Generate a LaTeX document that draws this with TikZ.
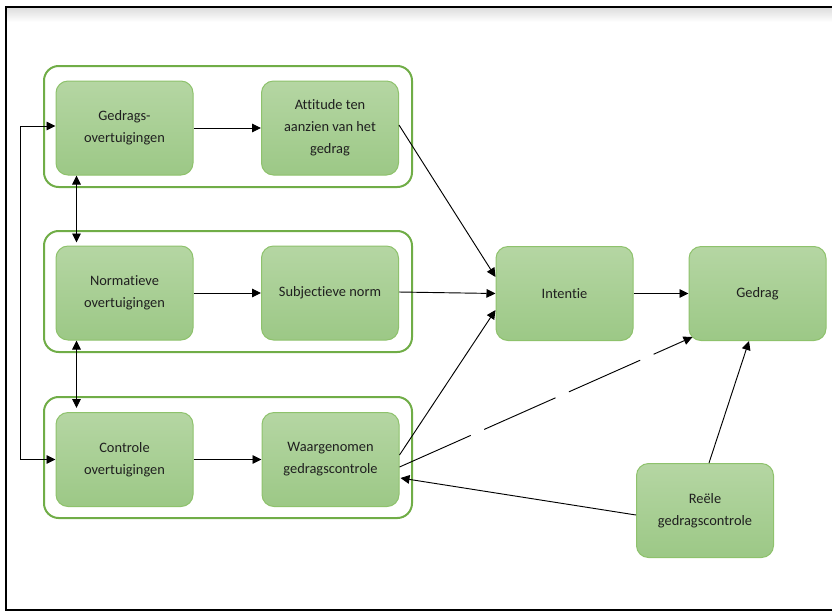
\documentclass[tikz,border=0pt]{standalone}
\usepackage{fontspec}
\setmainfont{Carlito}[Ligatures={NoCommon}]
\usetikzlibrary{arrows.meta,calc}
\definecolor{boxtop}{HTML}{B5D6A3}
\definecolor{boxbot}{HTML}{9CC886}
\definecolor{boxline}{HTML}{8EC26C}
\definecolor{grpline}{HTML}{70AD47}
\definecolor{txt}{HTML}{1F1F1F}
\begin{document}
\begin{tikzpicture}[x=0.75pt,y=-0.75pt,
  box/.style={draw=boxline, line width=0.75pt, rounded corners=9pt, top color=boxtop, bottom color=boxbot,
    minimum width=102.75pt, minimum height=70.5pt, inner sep=0pt, align=center,
    font=\fontsize{10.8}{16.5}\selectfont, text=txt},
  grp/.style={draw=grpline, line width=1.5pt, rounded corners=11pt, fill=white,
    minimum width=276pt, minimum height=90.75pt, inner sep=0pt},
  arr/.style={-{Triangle[length=6.75pt,width=6.5pt]}, line width=0.7pt, draw=black},
  darr/.style={{Triangle[length=6.75pt,width=6.5pt]}-{Triangle[length=6.75pt,width=6.5pt]}, line width=0.7pt, draw=black}]
\useasboundingbox (0,0) rectangle (832,612);
% frame
\shade[top color=black!13, bottom color=white] (7,8) rectangle (832,22);
\draw[line width=1.6pt] (833,7) -- (6,7) -- (6,610) -- (833,610);
% groups
\node[grp] (grp1) at (228,126.5) {};
\node[grp] (grp2) at (228,291.5) {};
\node[grp] (grp3) at (228,457.5) {};
% boxes
\node[box] (g1) at (124.5,128) {Gedrags-\\overtuigingen};
\node[box] (att) at (330,128) {Attitude ten\\aanzien van het\\gedrag};
\node[box] (norm) at (124.5,293) {Normatieve\\overtuigingen};
\node[box] (subj) at (330,293) {Subjectieve norm};
\node[box] (ctrl) at (124.5,459.5) {Controle\\overtuigingen};
\node[box] (waar) at (330.5,459.5) {Waargenomen\\gedragscontrole};
\node[box] (int) at (564.5,293.5) {Intentie};
\node[box] (ged) at (757.5,293.5) {Gedrag};
\node[box] (reele) at (705,510.5) {Reële\\gedragscontrole};
% connectors
\draw[arr] (g1) -- (att);
\draw[arr] (norm) -- (subj);
\draw[arr] (ctrl) -- (waar);
\draw[arr] ($(att.east)+(0,-3)$) -- ($(int.west)+(0,-16.5)$);
\draw[arr] ($(subj.east)+(0,-1)$) -- (int.west);
\draw[arr] ($(waar.east)+(0,-4.5)$) -- ($(int.west)+(0,16.5)$);
\draw[arr] (int) -- (ged);
\draw[arr, dash pattern=on 58.5pt off 11pt] ($(waar.east)+(0,7.5)$) -- ($(ged.south west)+(4,-4)$);
\draw[arr] ($(reele.north)+(4,0)$) -- ($(ged.south)+(-8.5,0)$);
\draw[arr] ($(reele.west)+(0,4.5)$) -- ($(waar.east)+(1,18.5)$);
\draw[darr] ($(g1.south west)+(21,0)$) -- ($(norm.north west)+(21,-3)$);
\draw[darr] ($(norm.south west)+(21,0)$) -- ($(ctrl.north west)+(21,-4)$);
\draw[darr] ($(g1.west)+(0,-2)$) -- ++(-35,0) |- (ctrl.west);
\end{tikzpicture}
\end{document}
